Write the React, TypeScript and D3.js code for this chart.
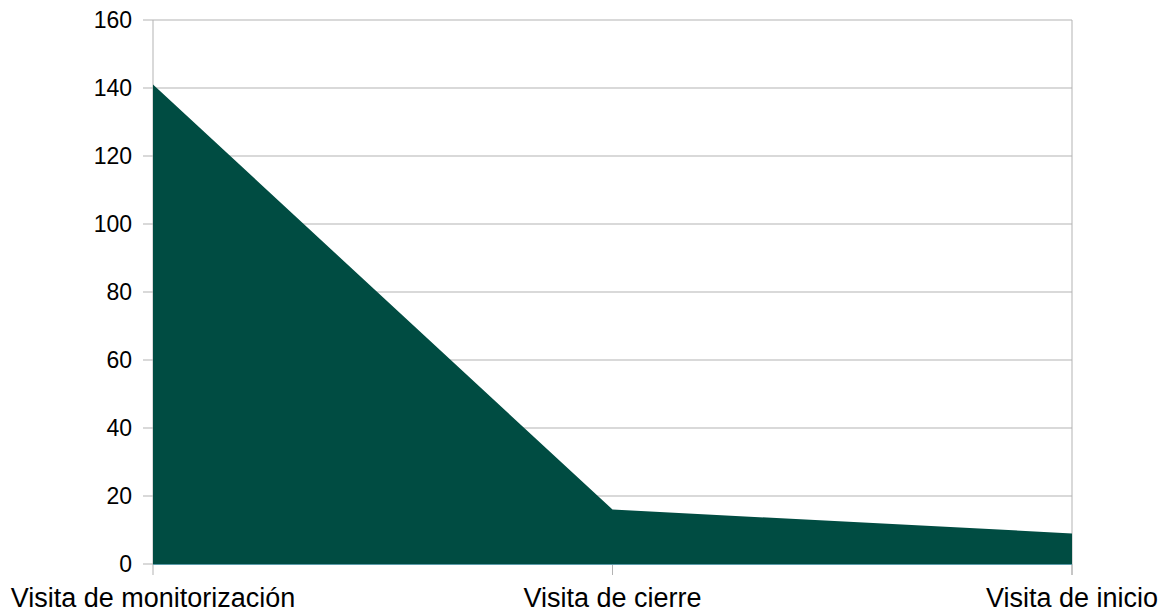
import React from "react";
import * as d3 from "d3";

const categories = ["Visita de monitorización", "Visita de cierre", "Visita de inicio"];
const values = [141, 16, 9];
const yTicks = [0, 20, 40, 60, 80, 100, 120, 140, 160];

const W = 1168;
const H = 613;
const M = { left: 153, right: 1072, top: 20, bottom: 564 };

export default function App() {
  const x = d3.scalePoint<string>().domain(categories).range([M.left, M.right]);
  const y = d3.scaleLinear().domain([0, 160]).range([M.bottom, M.top]);
  const data = categories.map((c, i) => ({ c, v: values[i] }));
  const area = d3
    .area<{ c: string; v: number }>()
    .x((d) => x(d.c) as number)
    .y0(y(0))
    .y1((d) => y(d.v));
  const font = "'Liberation Sans', Arial, sans-serif";
  return (
    <svg
      width={W}
      height={H}
      style={{ position: "absolute", left: 0, top: 0, background: "#fff" }}
      fontFamily={font}
    >
      {yTicks.map((t) => (
        <g key={t}>
          <line x1={M.left - 10} x2={M.right} y1={y(t)} y2={y(t)} stroke="#b3b3b3" strokeWidth={1} />
          <text x={M.left - 21} y={y(t)} dy="0.35em" textAnchor="end" fontSize={23} fill="#000">
            {t}
          </text>
        </g>
      ))}
      <line x1={M.left} x2={M.left} y1={M.top} y2={M.bottom + 11} stroke="#b3b3b3" />
      {categories.slice(1).map((c) => (
        <line key={"t" + c} x1={x(c)} x2={x(c)} y1={M.bottom} y2={M.bottom + 11} stroke="#b3b3b3" />
      ))}
      <line x1={M.right} x2={M.right} y1={M.top} y2={M.bottom + 11} stroke="#b3b3b3" />
      <path d={area(data) || ""} fill="#004c42" />
      <line x1={M.left} x2={M.right} y1={M.bottom + 0.5} y2={M.bottom + 0.5} stroke="#5a9aa8" strokeWidth={1} />
      {categories.map((c) => (
        <text key={"l" + c} x={x(c)} y={607} textAnchor="middle" fontSize={27} fill="#000">
          {c}
        </text>
      ))}
    </svg>
  );
}
